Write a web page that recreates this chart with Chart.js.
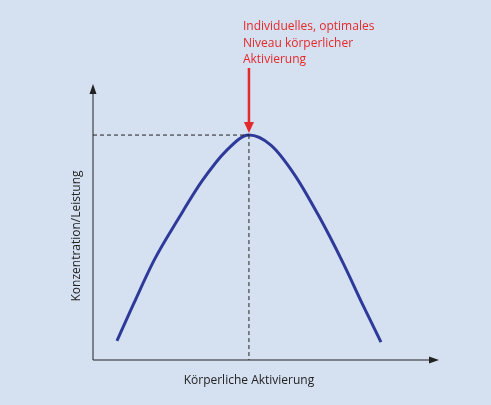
<!DOCTYPE html>
<html>
<head>
<meta charset="utf-8">
<script src="https://cdn.jsdelivr.net/npm/chart.js@4"></script>
<style>
  body { margin: 0; background: #d5e0f1; }
  canvas { display: block; }
</style>
</head>
<body>
<canvas id="myChart" width="491" height="405"></canvas>
<script>
// activation (0..100) and performance (0..100)
const activation = [7, 12, 18, 25, 32, 39, 45.6, 52, 59, 66, 73, 79, 84.2];
const performance = [7, 21, 37, 52, 66, 77, 82.7, 79, 68, 53, 36, 20, 6.6];
const peakX = 45.6;
const peakY = 82.7;
const xTitle = 'Körperliche Aktivierung';
const yTitle = 'Konzentration/Leistung';
const noteLines = ['Individuelles, optimales', 'Niveau körperlicher', 'Aktivierung'];

const points = activation.map((x, i) => ({ x: x, y: performance[i] }));

const decor = {
    id: 'decor',
    afterDatasetsDraw(chart) {
        const ctx = chart.ctx;
        const area = chart.chartArea;
        const xs = chart.scales.x, ys = chart.scales.y;
        const px = xs.getPixelForValue(peakX), py = ys.getPixelForValue(peakY);
        ctx.save();
        // axes
        ctx.strokeStyle = '#222';
        ctx.fillStyle = '#222';
        ctx.lineWidth = 1;
        ctx.beginPath();
        ctx.moveTo(area.left, area.bottom);
        ctx.lineTo(area.left, area.top);
        ctx.moveTo(area.left, area.bottom);
        ctx.lineTo(area.right, area.bottom);
        ctx.stroke();
        ctx.beginPath();
        ctx.moveTo(area.left, area.top - 4);
        ctx.lineTo(area.left - 3.5, area.top + 6);
        ctx.lineTo(area.left + 3.5, area.top + 6);
        ctx.fill();
        ctx.beginPath();
        ctx.moveTo(area.right + 4, area.bottom);
        ctx.lineTo(area.right - 6, area.bottom - 3.5);
        ctx.lineTo(area.right - 6, area.bottom + 3.5);
        ctx.fill();
        // dashed guides
        ctx.setLineDash([4, 3]);
        ctx.beginPath();
        ctx.moveTo(area.left, py);
        ctx.lineTo(px, py);
        ctx.moveTo(px, py);
        ctx.lineTo(px, area.bottom);
        ctx.stroke();
        ctx.setLineDash([]);
        // titles
        ctx.font = '12px "Open Sans", sans-serif';
        ctx.textAlign = 'center';
        ctx.textBaseline = 'middle';
        ctx.fillText(xTitle, px, area.bottom + 21);
        ctx.translate(area.left - 16, (area.top + area.bottom) / 2 + 12);
        ctx.rotate(-Math.PI / 2);
        ctx.fillText(yTitle, 0, 0);
        ctx.restore();
        // red arrow and note
        ctx.save();
        ctx.strokeStyle = '#e5282a';
        ctx.fillStyle = '#e5282a';
        ctx.lineWidth = 2.5;
        ctx.beginPath();
        ctx.moveTo(px, 68);
        ctx.lineTo(px, py - 10);
        ctx.stroke();
        ctx.beginPath();
        ctx.moveTo(px, py - 2);
        ctx.lineTo(px - 5, py - 13);
        ctx.lineTo(px + 5, py - 13);
        ctx.fill();
        ctx.font = '12px "Open Sans", sans-serif';
        ctx.textAlign = 'left';
        ctx.textBaseline = 'middle';
        noteLines.forEach((t, i) => ctx.fillText(t, px - 6, 27 + i * 16.5));
        ctx.restore();
    }
};

new Chart(document.getElementById('myChart'), {
    type: 'line',
    data: {
        datasets: [{
            data: points,
            borderColor: '#2e3a9a',
            borderWidth: 3,
            pointRadius: 0,
            tension: 0.4,
            cubicInterpolationMode: 'monotone'
        }]
    },
    options: {
        responsive: false,
        animation: false,
        layout: { padding: { left: 93, right: 56, top: 88, bottom: 45 } },
        plugins: { legend: { display: false }, tooltip: { enabled: false } },
        scales: {
            x: { type: 'linear', min: 0, max: 100, display: false },
            y: { min: 0, max: 100, display: false }
        }
    },
    plugins: [decor]
});
</script>
</body>
</html>
